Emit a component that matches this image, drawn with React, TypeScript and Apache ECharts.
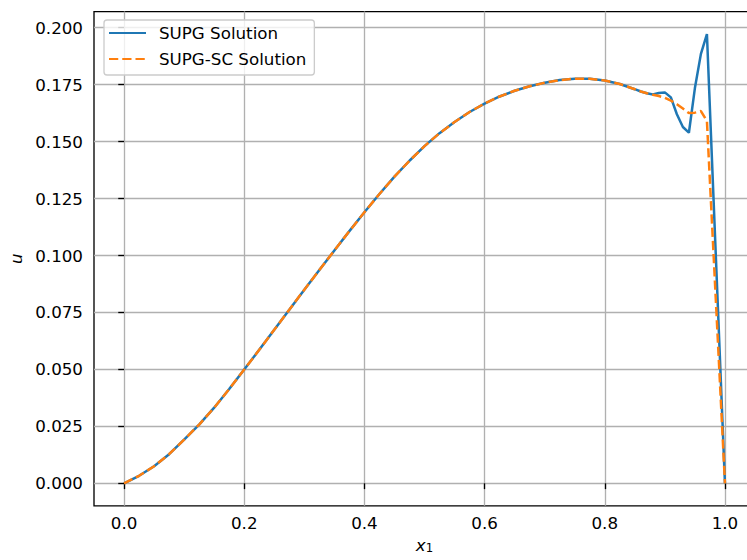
import React, { useEffect, useRef } from "react";
import * as echarts from "echarts";

// Nodal x-coordinates of the 1D mesh where both solutions are sampled
const xNodes = [
  0, 0.025, 0.05, 0.075, 0.1, 0.125, 0.15, 0.175, 0.2, 0.225, 0.25, 0.275, 0.3,
  0.325, 0.35, 0.375, 0.4, 0.425, 0.45, 0.475, 0.5, 0.525, 0.55, 0.575, 0.6,
  0.625, 0.65, 0.675, 0.7, 0.725, 0.75, 0.775, 0.8, 0.825, 0.85, 0.86, 0.87,
  0.88, 0.89, 0.9, 0.91, 0.92, 0.93, 0.94, 0.95, 0.96, 0.97, 1.0,
];

// SUPG solution (oscillates in the boundary layer near x1 = 1)
const supgU = [
  0, 0.0033, 0.0075, 0.0128, 0.0192, 0.0258, 0.0332, 0.0414, 0.05, 0.0586,
  0.0674, 0.0762, 0.085, 0.0936, 0.1022, 0.1107, 0.119, 0.127, 0.1346, 0.1416,
  0.148, 0.1537, 0.1586, 0.163, 0.1667, 0.1698, 0.1723, 0.1743, 0.1758, 0.177,
  0.1776, 0.1776, 0.1768, 0.1753, 0.173, 0.172, 0.1712, 0.1707, 0.1713, 0.1716,
  0.1694, 0.162, 0.1564, 0.1539, 0.1735, 0.1885, 0.1972, 0,
];

// SUPG with shock capturing (damped layer)
const supgScU = [
  0, 0.0033, 0.0075, 0.0128, 0.0192, 0.0258, 0.0332, 0.0414, 0.05, 0.0586,
  0.0674, 0.0762, 0.085, 0.0936, 0.1022, 0.1107, 0.119, 0.127, 0.1346, 0.1416,
  0.148, 0.1537, 0.1586, 0.163, 0.1667, 0.1698, 0.1723, 0.1743, 0.1758, 0.177,
  0.1776, 0.1776, 0.1768, 0.1753, 0.173, 0.172, 0.1712, 0.1706, 0.17, 0.1692,
  0.168, 0.1664, 0.1645, 0.1625, 0.1627, 0.1634, 0.159, 0,
];

const xTicks = [0, 0.2, 0.4, 0.6, 0.8, 1.0];
const yTicks = [0, 0.025, 0.05, 0.075, 0.1, 0.125, 0.15, 0.175, 0.2];

const FONT = "DejaVu Sans";
const FS = 16.7;
const LW = 2.5;

export default function App() {
  const ref = useRef<HTMLDivElement>(null);

  useEffect(() => {
    const chart = echarts.init(ref.current!, null, { renderer: "svg" });
    const pairs = (ys: number[]) => xNodes.map((x, i) => [x, ys[i]]);
    const tickStyle = { color: "#000", width: 1.33 };
    const labelStyle = { fontFamily: FONT, fontSize: FS, color: "#000" };

    chart.setOption({
      animation: false,
      backgroundColor: "#ffffff",
      grid: {
        left: 94,
        top: 11.6,
        width: 661,
        height: 494.2,
        outerBoundsMode: "none",
        containLabel: false,
        show: true,
        borderColor: "#000",
        borderWidth: 1.33,
        backgroundColor: "transparent",
      },
      legend: {
        orient: "vertical",
        left: 104,
        top: 20,
        padding: [4, 8, 7, 4],
        itemWidth: 37,
        itemHeight: 14,
        itemGap: 8,
        itemStyle: { opacity: 0 },
        backgroundColor: "rgba(255,255,255,0.8)",
        borderColor: "#cccccc",
        borderWidth: 1.33,
        borderRadius: 3,
        textStyle: { ...labelStyle, lineHeight: 18, padding: [0, 0, 0, 8] },
        data: ["SUPG Solution", "SUPG-SC Solution"],
      },
      xAxis: {
        type: "value",
        min: -0.05,
        max: 1.05,
        axisLine: { show: false },
        axisTick: { show: true, customValues: xTicks, length: 5.8, lineStyle: tickStyle },
        axisLabel: {
          customValues: xTicks,
          formatter: (v: number) => v.toFixed(1),
          margin: 9,
          ...labelStyle,
        },
        splitLine: { show: true, lineStyle: { color: "#b0b0b0", width: 1.33 } },
        name: "x{s|1}",
        nameLocation: "middle",
        nameGap: 31,
        nameTextStyle: {
          fontFamily: FONT,
          fontSize: FS,
          fontStyle: "italic",
          color: "#000",
          rich: {
            s: {
              fontFamily: FONT,
              fontSize: 11.7,
              fontStyle: "normal",
              color: "#000",
              verticalAlign: "bottom",
              lineHeight: 8,
            },
          },
        },
      },
      yAxis: {
        type: "value",
        min: -0.00986,
        max: 0.20706,
        axisLine: { show: false },
        axisTick: { show: true, customValues: yTicks, length: 5.8, lineStyle: tickStyle },
        axisLabel: {
          customValues: yTicks,
          formatter: (v: number) => v.toFixed(3),
          margin: 11,
          ...labelStyle,
        },
        splitLine: { show: true, lineStyle: { color: "#b0b0b0", width: 1.33 } },
        name: "u",
        nameLocation: "middle",
        nameGap: 70,
        nameRotate: 90,
        nameTextStyle: { fontFamily: FONT, fontSize: FS, fontStyle: "italic", color: "#000" },
      },
      series: [
        {
          name: "SUPG Solution",
          type: "line",
          data: pairs(supgU),
          symbol: "none",
          lineStyle: { color: "#1f77b4", width: LW },
          itemStyle: { color: "#1f77b4" },
          z: 3,
        },
        {
          name: "SUPG-SC Solution",
          type: "line",
          data: pairs(supgScU),
          symbol: "none",
          lineStyle: { color: "#ff7f0e", width: LW, type: [9.25, 4] },
          itemStyle: { color: "#ff7f0e" },
          z: 4,
        },
      ],
    });

    return () => chart.dispose();
  }, []);

  return (
    <div
      ref={ref}
      style={{ position: "absolute", left: 0, top: 0, width: 747, height: 560 }}
    />
  );
}
